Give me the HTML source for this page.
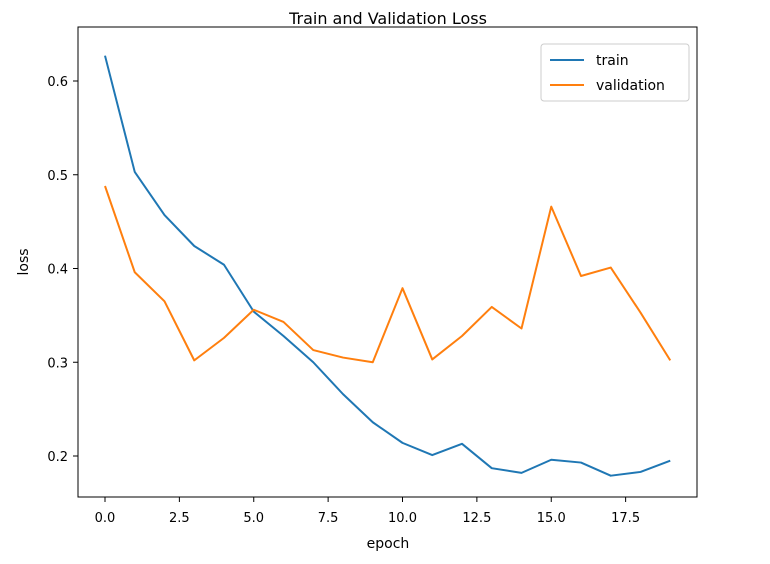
<!DOCTYPE html>
<html><head><meta charset="utf-8">
<style>
html,body{margin:0;padding:0;background:#fff;}
svg{display:block;font-family:"DejaVu Sans","Liberation Sans",sans-serif;}
</style></head>
<body>
<svg id="chart" width="770" height="564" xmlns="http://www.w3.org/2000/svg">
<rect x="0" y="0" width="770" height="564" fill="#fff"/>
<text x="388" y="24" text-anchor="middle" font-size="16" fill="#000">Train and Validation Loss</text>
<g id="ticks"></g>
<g id="series"></g>
<rect x="78" y="27" width="619" height="470" fill="none" stroke="#000" stroke-width="1"/>
<text x="388" y="548" text-anchor="middle" font-size="14" fill="#000">epoch</text>
<text transform="translate(28,262) rotate(-90)" text-anchor="middle" font-size="14" fill="#000">loss</text>
<g>
<rect x="541" y="44" width="148" height="57" rx="3" fill="#fff" stroke="#ccc" stroke-width="1"/>
<g>
<line x1="550" y1="60" x2="584" y2="60" stroke="#1f77b4" stroke-width="2"/>
<text x="596" y="65" font-size="14" fill="#000">train</text>
</g>
<g>
<line x1="550" y1="85" x2="584" y2="85" stroke="#ff7f0e" stroke-width="2"/>
<text x="596" y="90" font-size="14" fill="#000">validation</text>
</g>
</g>
</svg>
<script>
const epochs = [0,1,2,3,4,5,6,7,8,9,10,11,12,13,14,15,16,17,18,19];
const trainLoss = [0.627,0.503,0.457,0.424,0.404,0.354,0.328,0.300,0.266,0.236,0.214,0.201,0.213,0.187,0.182,0.196,0.193,0.179,0.183,0.195];
const valLoss = [0.488,0.396,0.365,0.302,0.326,0.356,0.343,0.313,0.305,0.300,0.379,0.303,0.328,0.359,0.336,0.466,0.392,0.401,0.353,0.302];
const xTicks = [0,2.5,5,7.5,10,12.5,15,17.5];
const xTickLabels = ["0.0","2.5","5.0","7.5","10.0","12.5","15.0","17.5"];
const yTicks = [0.2,0.3,0.4,0.5,0.6];
const yTickLabels = ["0.2","0.3","0.4","0.5","0.6"];

const NS="http://www.w3.org/2000/svg";
function sx(v){return 105+v*29.75;}
function sy(v){return 456-(v-0.2)*937.5;}
const tg=document.getElementById('ticks');
xTicks.forEach((t,i)=>{
  const l=document.createElementNS(NS,'line');
  l.setAttribute('x1',sx(t));l.setAttribute('x2',sx(t));
  l.setAttribute('y1',497);l.setAttribute('y2',502);
  l.setAttribute('stroke','#000');
  
  
  tg.appendChild(l);
  const tx=document.createElementNS(NS,'text');
  tx.setAttribute('x',sx(t));tx.setAttribute('y',522);
  tx.setAttribute('text-anchor','middle');tx.setAttribute('font-size','13');
  tx.textContent=xTickLabels[i];
  
  
  tg.appendChild(tx);
});
yTicks.forEach((t,i)=>{
  const l=document.createElementNS(NS,'line');
  l.setAttribute('x1',73);l.setAttribute('x2',78);
  l.setAttribute('y1',sy(t));l.setAttribute('y2',sy(t));
  l.setAttribute('stroke','#000');
  
  
  tg.appendChild(l);
  const tx=document.createElementNS(NS,'text');
  tx.setAttribute('x',68);tx.setAttribute('y',sy(t)+5);
  tx.setAttribute('text-anchor','end');tx.setAttribute('font-size','13');
  tx.textContent=yTickLabels[i];
  
  
  tg.appendChild(tx);
});
const sg=document.getElementById('series');
function drawLine(vals,color,name){
  const p=document.createElementNS(NS,'polyline');
  p.setAttribute('points',vals.map((v,i)=>sx(epochs[i])+','+sy(v)).join(' '));
  p.setAttribute('fill','none');p.setAttribute('stroke',color);
  p.setAttribute('stroke-width','2');p.setAttribute('stroke-linejoin','round');
  
  
  sg.appendChild(p);
}
drawLine(trainLoss,'#1f77b4','train-line');
drawLine(valLoss,'#ff7f0e','validation-line');
</script>
</body></html>
